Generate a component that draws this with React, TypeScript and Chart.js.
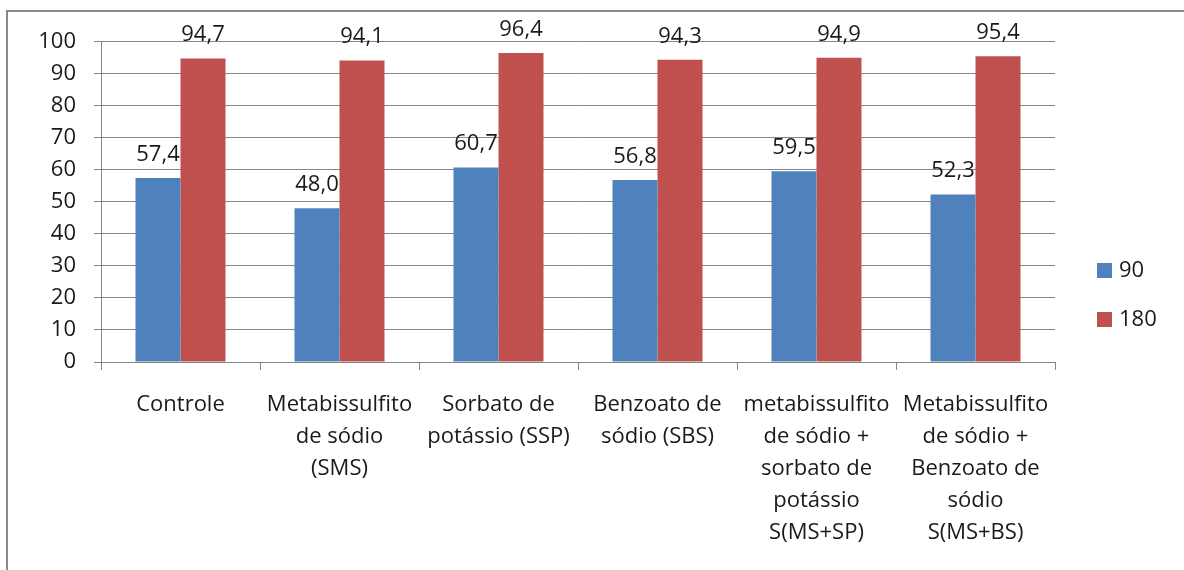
import React, { useEffect, useRef } from "react";
import { Chart, registerables } from "chart.js";

Chart.register(...registerables);

const categories: string[][] = [
  ["Controle"],
  ["Metabissulfito", "de sódio", "(SMS)"],
  ["Sorbato de", "potássio (SSP)"],
  ["Benzoato de", "sódio (SBS)"],
  ["metabissulfito", "de sódio +", "sorbato de", "potássio", "S(MS+SP)"],
  ["Metabissulfito", "de sódio +", "Benzoato de", "sódio", "S(MS+BS)"],
];

const seriesNames = ["90", "180"];
const values90 = [57.4, 48.0, 60.7, 56.8, 59.5, 52.3];
const values180 = [94.7, 94.1, 96.4, 94.3, 94.9, 95.4];
const seriesColors = ["#4F81BD", "#C0504D"];

const FONT = "'Open Sans', Lato, sans-serif";
const FONT_SIZE = 22;
const TEXT = "#1a1a1a";
const GRID = "#878787";

const fmt = (v: number) => v.toFixed(1).replace(".", ",");

// Value labels above every bar, comma as decimal separator
const valueLabels = {
  id: "valueLabels",
  afterDatasetsDraw(chart: any) {
    const ctx = chart.ctx;
    ctx.save();
    ctx.font = `${FONT_SIZE}px ${FONT}`;
    ctx.fillStyle = TEXT;
    ctx.textAlign = "center";
    ctx.textBaseline = "alphabetic";
    chart.data.datasets.forEach((ds: any, i: number) => {
      const meta = chart.getDatasetMeta(i);
      meta.data.forEach((bar: any, j: number) => {
        ctx.fillText(fmt(ds.data[j]), bar.x, bar.y - 17);
      });
    });
    ctx.restore();
  },
};

// Legend on the right, square swatches
const sideLegend = {
  id: "sideLegend",
  afterDraw(chart: any) {
    const ctx = chart.ctx;
    const x = chart.chartArea.right + 42;
    const y0 = 263;
    const gap = 49;
    ctx.save();
    ctx.font = `${FONT_SIZE}px ${FONT}`;
    ctx.textBaseline = "middle";
    ctx.textAlign = "left";
    chart.data.datasets.forEach((ds: any, i: number) => {
      const y = y0 + i * gap;
      ctx.fillStyle = ds.backgroundColor;
      ctx.fillRect(x, y, 15, 15);
      ctx.fillStyle = TEXT;
      ctx.fillText(ds.label, x + 22, y + 8);
    });
    ctx.restore();
  },
};

export default function App() {
  const ref = useRef<HTMLCanvasElement>(null);

  useEffect(() => {
    if (!ref.current) return;
    const chart = new Chart(ref.current, {
      type: "bar",
      data: {
        labels: categories,
        datasets: [
          {
            label: seriesNames[0],
            data: values90,
            backgroundColor: seriesColors[0],
            categoryPercentage: 0.566,
            barPercentage: 1,
          },
          {
            label: seriesNames[1],
            data: values180,
            backgroundColor: seriesColors[1],
            categoryPercentage: 0.566,
            barPercentage: 1,
          },
        ],
      },
      options: {
        responsive: false,
        animation: false,
        devicePixelRatio: 1,
        layout: { padding: { top: 41.5, right: 129, left: 0, bottom: 0 } },
        plugins: {
          legend: { display: false },
          tooltip: { enabled: false },
        },
        scales: {
          x: {
            afterFit(scale: any) {
              scale.height = 208;
            },
            grid: {
              display: true,
              drawOnChartArea: false,
              drawTicks: true,
              tickLength: 8,
              color: GRID,
              offset: true,
            },
            border: { display: true, color: GRID, width: 1 },
            ticks: {
              autoSkip: false,
              maxRotation: 0,
              minRotation: 0,
              padding: 19,
              color: TEXT,
              font: { family: FONT, size: FONT_SIZE, lineHeight: 32 / FONT_SIZE },
            },
          },
          y: {
            min: 0,
            max: 100,
            afterFit(scale: any) {
              scale.width = 101;
            },
            grid: {
              color: GRID,
              lineWidth: 1,
              drawTicks: true,
              tickLength: 7,
            },
            border: { display: true, color: GRID, width: 1 },
            ticks: {
              stepSize: 10,
              padding: 18,
              color: TEXT,
              font: { family: FONT, size: FONT_SIZE },
            },
          },
        },
      },
      plugins: [valueLabels, sideLegend],
    });
    return () => chart.destroy();
  }, []);

  return (
    <div style={{ position: "fixed", left: 0, top: 0, width: 1184, height: 570, background: "#fff", overflow: "hidden" }}>
      <div
        style={{
          position: "absolute",
          left: 6,
          top: 10,
          width: 1200,
          height: 600,
          border: "2px solid #8a8a8a",
          boxSizing: "border-box",
        }}
      />
      <canvas ref={ref} width={1184} height={570} style={{ position: "absolute", left: 0, top: 0 }} />
    </div>
  );
}
